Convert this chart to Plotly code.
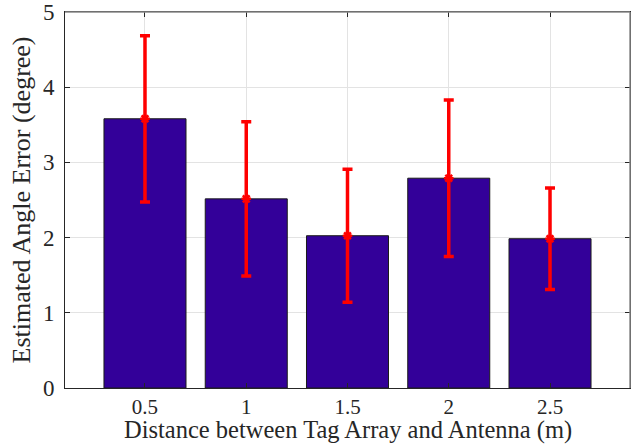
import plotly.graph_objects as go

# Distance between tag array and antenna (m)
distances = [0.5, 1.0, 1.5, 2.0, 2.5]
tick_labels = ["0.5", "1", "1.5", "2", "2.5"]
# Mean estimated angle error (degree) and its spread
mean_error = [3.58, 2.515, 2.025, 2.79, 1.985]
error_spread = [1.105, 1.025, 0.885, 1.04, 0.675]

FONT = "Liberation Serif, Times New Roman, serif"
AXIS = "#262626"
FRAME = "#8a8a8a"

MARGIN_T, MARGIN_B, HEIGHT = 12, 56, 444
PLOT_H = HEIGHT - MARGIN_T - MARGIN_B

fig = go.Figure()

fig.add_trace(go.Bar(
    x=distances,
    y=mean_error,
    width=0.405,
    marker=dict(color="rgb(51,0,153)", line=dict(color="#1a1a1a", width=1)),
    showlegend=False,
    hoverinfo="skip",
))

fig.add_trace(go.Scatter(
    x=distances,
    y=mean_error,
    mode="markers",
    marker=dict(symbol="asterisk-open", size=8, color="red",
                line=dict(color="red", width=2.5)),
    error_y=dict(type="data", array=error_spread, visible=True,
                 color="red", thickness=3.5, width=5),
    showlegend=False,
))

# top and right edges of the axes box
fig.add_shape(type="line", xref="paper", yref="paper", x0=0, x1=1, y0=1, y1=1,
              line=dict(color=FRAME, width=1.5), layer="above")
fig.add_shape(type="line", xref="paper", yref="paper", x0=1, x1=1, y0=0, y1=1,
              line=dict(color=FRAME, width=1.5), layer="above")

# x-axis title, pinned to the bottom edge of the figure
fig.add_annotation(
    text="Distance between Tag Array and Antenna (m)",
    xref="paper", yref="paper",
    x=0.5, y=-MARGIN_B / PLOT_H,
    xanchor="center", yanchor="bottom",
    showarrow=False,
    borderpad=0,
    yshift=-1,
    font=dict(family=FONT, size=24.5, color=AXIS),
)

fig.update_layout(
    width=631,
    height=HEIGHT,
    margin=dict(l=65, r=1, t=MARGIN_T, b=MARGIN_B, autoexpand=False),
    paper_bgcolor="white",
    plot_bgcolor="white",
    font=dict(family=FONT, size=23, color=AXIS),
    xaxis=dict(
        range=[0.105, 2.895],
        tickmode="array",
        tickvals=distances,
        ticktext=tick_labels,
        ticks="inside",
        ticklen=5,
        tickcolor=AXIS,
        showline=True,
        linecolor=AXIS,
        linewidth=1,
        mirror="ticks",
        showgrid=True,
        gridcolor="#e3e3e3",
        gridwidth=1,
        zeroline=False,
        automargin=False,
        ticklabelstandoff=0,
        tickfont=dict(family=FONT, size=21, color=AXIS),
    ),
    yaxis=dict(
        range=[0, 5],
        tickmode="array",
        tickvals=[0, 1, 2, 3, 4, 5],
        ticks="inside",
        ticklen=5,
        tickcolor=AXIS,
        showline=True,
        linecolor=AXIS,
        linewidth=1,
        mirror="ticks",
        showgrid=True,
        gridcolor="#e3e3e3",
        gridwidth=1,
        zeroline=False,
        automargin=False,
        ticklabelstandoff=5,
        tickfont=dict(family=FONT, size=23, color=AXIS),
        title=dict(text="Estimated Angle Error (degree)",
                   font=dict(family=FONT, size=26, color=AXIS),
                   standoff=4),
    ),
)

fig.write_html("out.html")
